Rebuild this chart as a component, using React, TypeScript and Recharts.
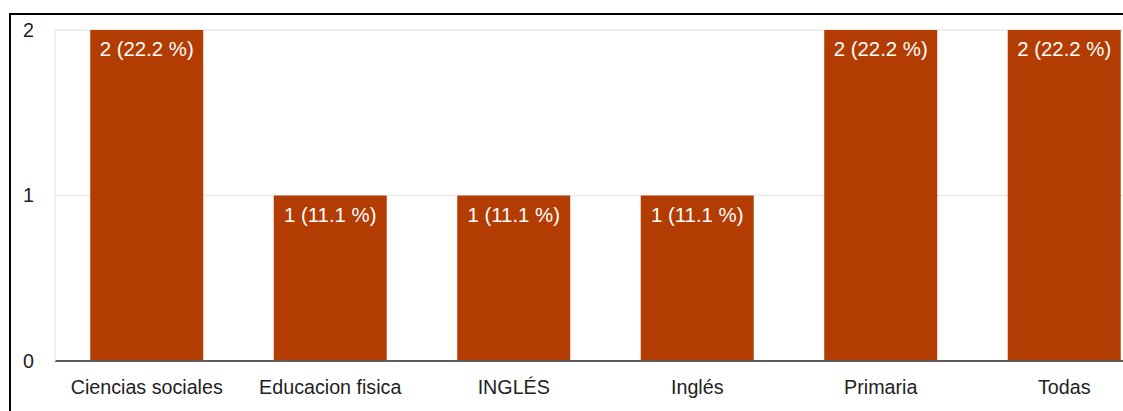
import React from 'react';
import { BarChart, Bar, XAxis, YAxis, CartesianGrid, LabelList } from 'recharts';

const categories = ['Ciencias sociales', 'Educacion fisica', 'INGLÉS', 'Inglés', 'Primaria', 'Todas'];
const counts = [2, 1, 1, 1, 2, 2];
const percents = [22.2, 11.1, 11.1, 11.1, 22.2, 22.2];
const yTicks = [0, 1, 2];
const minorTicks = [0, 0.5, 1, 1.5, 2];

const data = categories.map((name, i) => ({
  name,
  value: counts[i],
  label: `${counts[i]} (${percents[i]} %)`,
}));

const FONT = 'Arial, "Liberation Sans", sans-serif';

const App: React.FC = () => {
  return (
    <div
      style={{
        position: 'absolute',
        left: 0,
        top: 0,
        width: 1123,
        height: 411,
        overflow: 'hidden',
        background: '#fff',
        fontFamily: FONT,
      }}
    >
      {/* frame of the screenshot */}
      <div style={{ position: 'absolute', left: 9, top: 13, right: 0, height: 2, background: '#000' }} />
      <div style={{ position: 'absolute', left: 9, top: 13, bottom: 0, width: 2, background: '#000' }} />

      <div style={{ position: 'absolute', left: 0, top: 0 }}>
        <BarChart
          width={1160}
          height={411}
          data={data}
          margin={{ top: 30, right: 4, left: 0, bottom: 0 }}
          barCategoryGap="19.2%"
        >
          <CartesianGrid yAxisId="minor" vertical={false} stroke="#f5f5f5" strokeWidth={1.5} />
          <CartesianGrid vertical={false} stroke="#ebebeb" strokeWidth={1.5} />
          <XAxis
            dataKey="name"
            height={50}
            tickLine={false}
            tickSize={0}
            tickMargin={19}
            axisLine={{ stroke: '#5c5c5c', strokeWidth: 2 }}
            tick={{ fontSize: 19.7, fill: '#222', fontFamily: FONT }}
            interval={0}
          />
          <YAxis
            yAxisId="minor"
            hide
            domain={[0, 2]}
            ticks={minorTicks}
          />
          <YAxis
            width={55}
            domain={[0, 2]}
            ticks={yTicks}
            tickLine={false}
            tickSize={0}
            tickMargin={21}
            axisLine={{ stroke: '#ececec', strokeWidth: 1.5 }}
            tick={{ fontSize: 19.7, fill: '#222', fontFamily: FONT }}
          />
          <Bar dataKey="value" fill="#b33c03" isAnimationActive={false}>
            <LabelList
              dataKey="label"
              position="insideTop"
              offset={12}
              style={{ fill: '#fff', fontSize: 20.4, fontFamily: FONT }}
            />
          </Bar>
        </BarChart>
      </div>
    </div>
  );
};

export default App;
